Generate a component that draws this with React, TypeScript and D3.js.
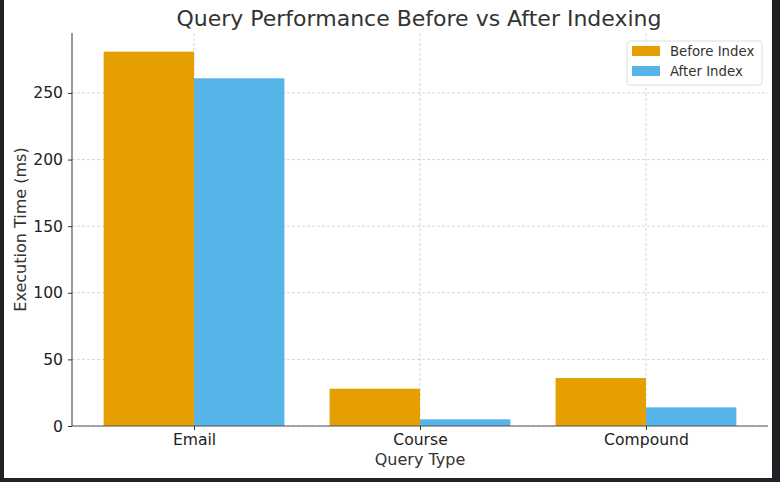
import React, { useEffect, useRef } from 'react';
import * as d3 from 'd3';

const categories = ['Email', 'Course', 'Compound'];
const beforeIndex = [281, 28, 36];
const afterIndex = [261, 5, 14];
const seriesNames = ['Before Index', 'After Index'];
const yTicks = [0, 50, 100, 150, 200, 250];

const W = 780;
const H = 482;

export default function App() {
  const ref = useRef<SVGSVGElement | null>(null);

  useEffect(() => {
    const svg = d3.select(ref.current);
    svg.selectAll('*').remove();
    const font = 'DejaVu Sans, sans-serif';

    // dark frame around the figure
    svg.append('rect').attr('width', W).attr('height', H).attr('fill', '#202124');
    svg.append('rect').attr('x', 4).attr('y', 0).attr('width', 768).attr('height', 478).attr('fill', '#fff');

    const marge = { top: 33, bottom: 56, left: 72, right: 12 };
    const x = d3.scaleLinear().domain([-0.54, 2.54]).range([marge.left, 768]);
    const y = d3.scaleLinear().domain([0, 295]).range([426, marge.top]);
    const bw = x(0.4) - x(0);

    const g = svg.append('g');

    // grid
    g.selectAll('line.gy').data(yTicks).enter().append('line')
      .attr('x1', x.range()[0]).attr('x2', x.range()[1])
      .attr('y1', d => y(d)).attr('y2', d => y(d))
      .attr('stroke', '#ccc').attr('stroke-width', 0.8).attr('stroke-dasharray', '3,2');
    g.selectAll('line.gx').data(categories).enter().append('line')
      .attr('x1', (d, i) => x(i)).attr('x2', (d, i) => x(i))
      .attr('y1', y.range()[0]).attr('y2', y.range()[1])
      .attr('stroke', '#ccc').attr('stroke-width', 0.8).attr('stroke-dasharray', '3,2');

    // bars
    const series = [beforeIndex, afterIndex];
    const colors = ['#E69F00', '#56B4E9'];
    series.forEach((vals, s) => {
      g.selectAll('rect.s' + s).data(vals).enter().append('rect')
        .attr('x', (d, i) => x(i + (s === 0 ? -0.4 : 0)))
        .attr('width', bw)
        .attr('y', d => y(d))
        .attr('height', d => y(0) - y(d))
        .attr('fill', colors[s]);
    });

    // axes
    const yAxis = d3.axisLeft(y).tickValues(yTicks).tickSize(4).tickPadding(5);
    const ya = g.append('g').attr('transform', `translate(${marge.left},0)`).call(yAxis);
    const xAxis = d3.axisBottom(x).tickValues([0, 1, 2]).tickFormat((d: any) => categories[d]).tickSize(4).tickPadding(4);
    const xa = g.append('g').attr('transform', `translate(0,${y(0)})`).call(xAxis);
    [ya, xa].forEach(a => {
      a.select('.domain').attr('stroke', '#555').attr('stroke-width', 1.2);
      a.selectAll('.tick line').attr('stroke', '#333');
      a.selectAll('.tick text').attr('font-family', font).attr('font-size', 15.6).attr('fill', '#222');
    });
    // keep domain ends flat
    ya.select('.domain').attr('d', `M0,${y.range()[1]}V${y(0)}`);
    xa.select('.domain').attr('d', `M${x.range()[0]},0H${x.range()[1]}`);

    // labels
    svg.append('text').attr('x', 419).attr('y', 26).attr('text-anchor', 'middle')
      .attr('font-family', font).attr('font-size', 22).attr('fill', '#333')
      .text('Query Performance Before vs After Indexing');
    svg.append('text').attr('x', 420).attr('y', 465).attr('text-anchor', 'middle')
      .attr('font-family', font).attr('font-size', 16).attr('fill', '#333')
      .text('Query Type');
    svg.append('text').attr('transform', `translate(26,${(marge.top + 426) / 2}) rotate(-90)`)
      .attr('text-anchor', 'middle')
      .attr('font-family', font).attr('font-size', 16).attr('fill', '#333')
      .text('Execution Time (ms)');

    // legend
    const lg = svg.append('g').attr('transform', 'translate(627,41)');
    lg.append('rect').attr('width', 135).attr('height', 44).attr('rx', 3)
      .attr('fill', 'rgba(255,255,255,0.8)').attr('stroke', '#ddd');
    seriesNames.forEach((n, i) => {
      lg.append('rect').attr('x', 5).attr('y', 5 + i * 20).attr('width', 28).attr('height', 10).attr('fill', colors[i]);
      lg.append('text').attr('x', 43).attr('y', 15 + i * 20)
        .attr('font-family', font).attr('font-size', 13.3).attr('fill', '#333').text(n);
    });
  }, []);

  return (
    <svg ref={ref} width={W} height={H} style={{ position: 'absolute', left: 0, top: 0 }} />
  );
}
